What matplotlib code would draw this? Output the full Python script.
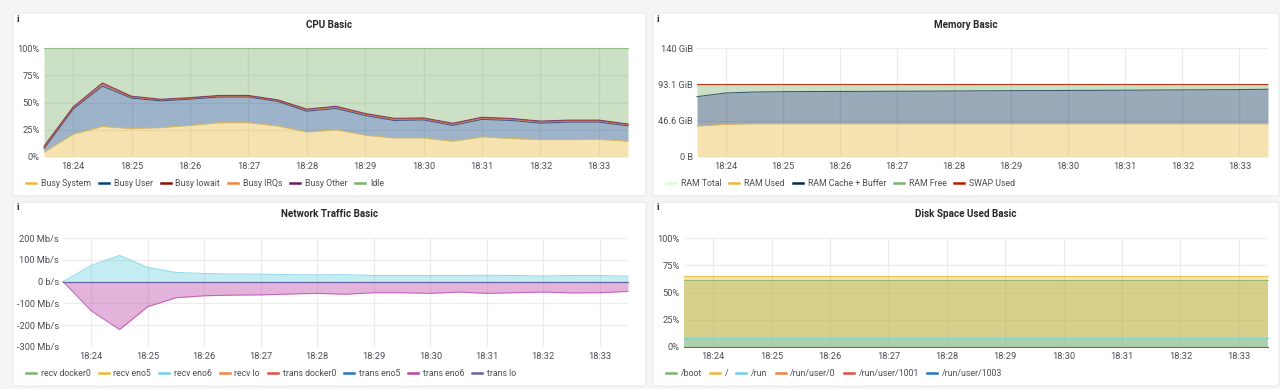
import numpy as np
import matplotlib
matplotlib.use("Agg")
import matplotlib.pyplot as plt
from matplotlib.patches import FancyBboxPatch

plt.rcParams['font.family'] = ['Roboto', 'DejaVu Sans']

W, H = 1280, 389
TEXT = '#4b4e55'
GRID = '#ececec'
FILL_ALPHA = 0.4

# temps en minutes apres 18:00, un point toutes les 30 s
times = np.arange(21) * 0.5 + 23.5
tick_minutes = [24, 25, 26, 27, 28, 29, 30, 31, 32, 33]
tick_labels = ['18:24', '18:25', '18:26', '18:27', '18:28', '18:29', '18:30', '18:31', '18:32', '18:33']

# CPU (%), empile
busy_system = [4.5, 21, 28, 26, 27, 29, 31.5, 31.5, 28.5, 23, 25, 20, 17.5, 17.5, 14.5, 18.5, 17, 16, 16, 16.2, 14.5]
busy_user = [3, 23, 37, 28, 24.5, 24, 23.5, 23.5, 22.5, 19, 19.5, 18, 16, 16.5, 14.5, 16, 16.5, 15, 16, 15.8, 14]
busy_iowait = [1.5, 1.3, 2.2, 1.2, 1, 1, 1, 1, 1, 1.4, 1.5, 1.4, 1.5, 1.4, 1.5, 1.5, 1.4, 1.5, 1.4, 1.4, 1.3]
busy_irqs = [0, 0, 0, 0, 0, 0, 0, 0, 0, 0, 0, 0, 0, 0, 0, 0, 0, 0, 0, 0, 0]
busy_other = [1, 0.7, 0.8, 0.6, 0.5, 0.5, 0.5, 0.5, 0.5, 0.6, 0.6, 0.6, 0.5, 0.5, 0.5, 0.5, 0.5, 0.5, 0.5, 0.5, 0.5]
cpu_total = 100

# Memoire (GiB)
ram_total = [94.2] * 21
ram_used = [39.8, 42, 42.8, 42.8, 42.8, 42.8, 42.8, 42.8, 42.8, 42.8, 42.8, 42.8, 42.8, 42.8, 42.8, 42.8, 42.8, 42.8, 42.8, 42.8, 42.8]
ram_cache_top = [77.5, 82.2, 83.5, 83.9, 84.1, 84.2, 84.3, 84.5, 84.6, 84.8, 85, 85.2, 85.3, 85.5, 85.6, 85.8, 86, 86.2, 86.4, 86.6, 87]
swap_used = [0.1] * 21

# Reseau (Mb/s)
recv_docker0 = [0] * 21
recv_eno5 = [0] * 21
recv_eno6 = [0, 74, 120, 65, 42, 37, 35, 34, 32, 31, 32, 28, 28, 28, 28, 29, 28, 26, 28, 28, 25]
recv_lo = [0] * 21
trans_docker0 = [0] * 21
trans_eno5 = [0] * 21
trans_eno6 = [0, -134, -220, -115, -74, -65, -62, -61, -57, -54, -58, -51, -51, -54, -48, -54, -51, -48, -52, -51, -45]
trans_lo = [0] * 21

# Disque (%)
disk_boot = [61.2] * 21
disk_root = [65] * 21
disk_run = [8.6] * 21
disk_user0 = [0.3] * 21
disk_user1001 = [0.3] * 21
disk_user1003 = [0.3] * 21


def boite(x0, y0, x1, y1):
    fig.add_artist(FancyBboxPatch((x0 / W, 1 - y1 / H), (x1 - x0) / W, (y1 - y0) / H,
                                  boxstyle="round,pad=0,rounding_size=0.002", mutation_aspect=3.3,
                                  transform=fig.transFigure, facecolor='white', edgecolor='#e6e8ea',
                                  linewidth=0.7, zorder=-5))


def panneau(titre, carte, zone, ylim, yticks, ylabels, legende):
    cx0, cy0, cx1, cy1 = carte
    x0, y0, x1, y1 = zone
    boite(*carte)
    ax = fig.add_axes([x0 / W, 1 - y1 / H, (x1 - x0) / W, (y1 - y0) / H])
    ax.patch.set_visible(False)
    ax.set_xlim(23.5, 33.5)
    ax.set_ylim(*ylim)
    ax.set_xticks(tick_minutes)
    ax.set_xticklabels(tick_labels)
    ax.set_yticks(yticks)
    ax.set_yticklabels(ylabels)
    ax.tick_params(length=0, labelsize=6.7, labelcolor=TEXT)
    ax.tick_params(axis='x', pad=3.5)
    ax.tick_params(axis='y', pad=3)
    ax.grid(True, color=GRID, linewidth=0.9)
    ax.set_axisbelow(True)
    for s in ax.spines.values():
        s.set_visible(False)
    fig.text((cx0 + cx1) / 2 / W, 1 - (cy0 + 15) / H, titre, ha='center', va='baseline',
             fontsize=7.1, fontweight='bold', color='#26282c')
    fig.text((cx0 + 5) / W, 1 - (cy0 + 6) / H, 'i', ha='center', va='center', fontsize=7,
             fontweight='bold', color='#33363b', family=['Liberation Serif', 'DejaVu Serif'])
    handles = [plt.Line2D([], [], color=c, linewidth=1.8) for c, _ in legende]
    labels = [n for _, n in legende]
    ax.legend(handles, labels, loc='center left', bbox_to_anchor=((cx0 + 13) / W, 1 - (cy1 - 12) / H),
              bbox_transform=fig.transFigure, ncols=len(labels), frameon=False, fontsize=6.3,
              labelcolor=TEXT, handlelength=1.15, handletextpad=0.55, columnspacing=0.9,
              borderpad=0, borderaxespad=0)
    return ax


def courbe(ax, bas, haut, couleur):
    ax.fill_between(times, bas, haut, color=couleur, alpha=FILL_ALPHA, linewidth=0)
    ax.plot(times, haut, color=couleur, linewidth=0.75, alpha=0.75, clip_on=False)


fig = plt.figure(figsize=(W / 100, H / 100), dpi=100, facecolor='#f4f5f5')

# CPU
ax = panneau('CPU Basic', (13, 13, 646, 196), (44, 48, 628, 157), (0, 100),
             [0, 25, 50, 75, 100], ['0%', '25%', '50%', '75%', '100%'],
             [('#EAB839', 'Busy System'), ('#0A437C', 'Busy User'), ('#890F02', 'Busy Iowait'),
              ('#EF843C', 'Busy IRQs'), ('#6D1F62', 'Busy Other'), ('#7EB26D', 'Idle')])
bas = np.zeros(21)
for serie, couleur in [(busy_system, '#EAB839'), (busy_user, '#0A437C'), (busy_iowait, '#890F02'),
                       (busy_irqs, '#EF843C'), (busy_other, '#6D1F62')]:
    haut = bas + np.array(serie)
    courbe(ax, bas, haut, couleur)
    bas = haut
courbe(ax, bas, np.full(21, cpu_total), '#7EB26D')

# Memoire
ax = panneau('Memory Basic', (653, 13, 1279, 196), (697, 48, 1268, 157), (0, 140),
             [0, 46.6, 93.1, 140], ['0 B', '46.6 GiB', '93.1 GiB', '140 GiB'],
             [('#E0F9D7', 'RAM Total'), ('#EAB839', 'RAM Used'), ('#052B51', 'RAM Cache + Buffer'),
              ('#7EB26D', 'RAM Free'), ('#BF1B00', 'SWAP Used')])
courbe(ax, np.zeros(21), np.array(ram_used), '#EAB839')
courbe(ax, np.array(ram_used), np.array(ram_cache_top), '#052B51')
courbe(ax, np.array(ram_cache_top), np.array(ram_total), '#7EB26D')
ax.plot(times, np.array(ram_total) + np.array(swap_used), color='#BF1B00', linewidth=0.8, alpha=0.8)

# Reseau
ax = panneau('Network Traffic Basic', (13, 202, 646, 386), (63, 238, 628, 347), (-300, 200),
             [-300, -200, -100, 0, 100, 200],
             ['-300 Mb/s', '-200 Mb/s', '-100 Mb/s', '0 b/s', '100 Mb/s', '200 Mb/s'],
             [('#7EB26D', 'recv docker0'), ('#EAB839', 'recv eno5'), ('#6ED0E0', 'recv eno6'),
              ('#EF843C', 'recv lo'), ('#E24D42', 'trans docker0'), ('#1F78C1', 'trans eno5'),
              ('#BA43A9', 'trans eno6'), ('#705DA0', 'trans lo')])
for serie, couleur in [(recv_docker0, '#7EB26D'), (recv_eno5, '#EAB839'), (recv_eno6, '#6ED0E0'),
                       (recv_lo, '#EF843C'), (trans_docker0, '#E24D42'), (trans_eno5, '#1F78C1'),
                       (trans_eno6, '#BA43A9'), (trans_lo, '#705DA0')]:
    courbe(ax, np.zeros(21), np.array(serie), couleur)

# Disque
ax = panneau('Disk Space Used Basic', (653, 202, 1279, 386), (684, 238, 1268, 347), (0, 100),
             [0, 25, 50, 75, 100], ['0%', '25%', '50%', '75%', '100%'],
             [('#7EB26D', '/boot'), ('#EAB839', '/'), ('#6ED0E0', '/run'), ('#EF843C', '/run/user/0'),
              ('#E24D42', '/run/user/1001'), ('#1F78C1', '/run/user/1003')])
for serie, couleur in [(disk_boot, '#7EB26D'), (disk_root, '#EAB839'), (disk_run, '#6ED0E0'),
                       (disk_user0, '#EF843C'), (disk_user1001, '#E24D42'), (disk_user1003, '#1F78C1')]:
    courbe(ax, np.zeros(21), np.array(serie), couleur)

fig.savefig('out.png', dpi=100, facecolor=fig.get_facecolor())
